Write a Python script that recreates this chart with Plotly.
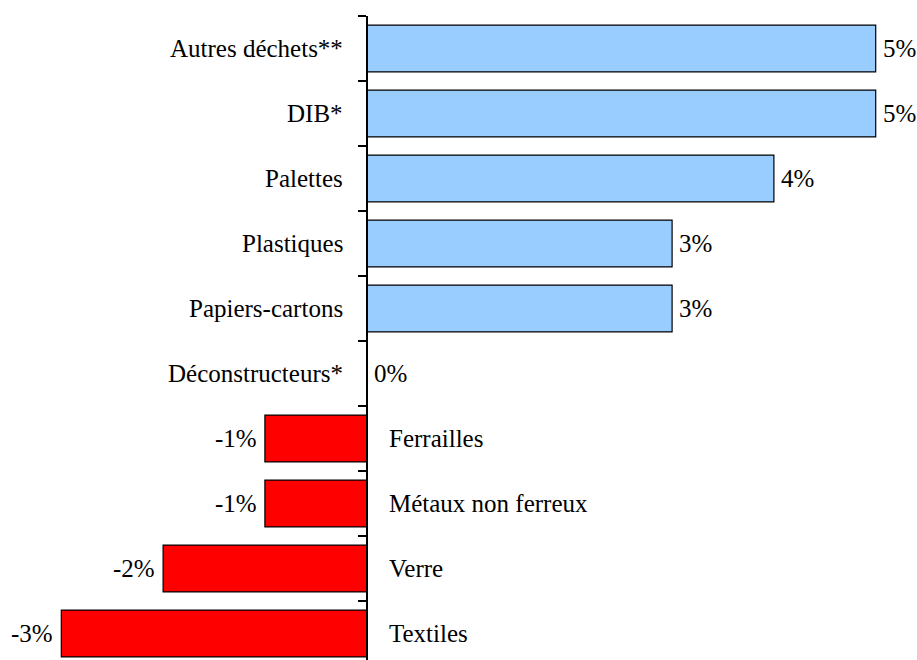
import plotly.graph_objects as go

categories = ["Autres déchets**", "DIB*", "Palettes", "Plastiques", "Papiers-cartons",
              "Déconstructeurs*", "Ferrailles", "Métaux non ferreux", "Verre", "Textiles"]
values = [5, 5, 4, 3, 3, 0, -1, -1, -2, -3]
value_labels = ["5%", "5%", "4%", "3%", "3%", "0%", "-1%", "-1%", "-2%", "-3%"]

POS_COLOR = "#99CCFF"
NEG_COLOR = "#FF0000"
FONT = dict(family="Liberation Serif, Times New Roman, serif", size=25, color="black")

FIG_W, FIG_H = 917, 660
PX_PER_UNIT = 101.8
AXIS_PX = 366.7
xmin = -AXIS_PX / PX_PER_UNIT
xmax = xmin + FIG_W / PX_PER_UNIT
ROW_PX = 65.0
TOP = 16
plot_h = FIG_H - TOP

colors = [POS_COLOR if v >= 0 else NEG_COLOR for v in values]

fig = go.Figure()
fig.add_trace(go.Bar(
    y=categories, x=values, orientation="h",
    marker=dict(color=colors, line=dict(color="black", width=1.2)),
    width=0.72, hoverinfo="skip",
))

annotations = []
for cat, v, lab in zip(categories, values, value_labels):
    if v >= 0:
        annotations.append(dict(x=0, y=cat, text=cat, showarrow=False, xanchor="right",
                                yanchor="middle", xshift=-22, font=FONT))
        annotations.append(dict(x=v, y=cat, text=lab, showarrow=False, xanchor="left",
                                yanchor="middle", xshift=5, font=FONT))
    else:
        annotations.append(dict(x=0, y=cat, text=cat, showarrow=False, xanchor="left",
                                yanchor="middle", xshift=20, font=FONT))
        annotations.append(dict(x=v, y=cat, text=lab, showarrow=False, xanchor="right",
                                yanchor="middle", xshift=-6, font=FONT))

fig.update_layout(
    width=FIG_W, height=FIG_H,
    margin=dict(l=0, r=0, t=TOP, b=0, autoexpand=False),
    paper_bgcolor="white", plot_bgcolor="white",
    showlegend=False,
    annotations=annotations,
    xaxis=dict(range=[xmin, xmax], showgrid=False, zeroline=False, showticklabels=False,
               showline=False, ticks="", fixedrange=True),
    yaxis=dict(type="category", categoryorder="array", categoryarray=categories,
               range=[-0.5 + plot_h / ROW_PX, -0.5], fixedrange=True,
               anchor="free", position=(0 - xmin) / (xmax - xmin),
               showline=True, linecolor="black", linewidth=1.5,
               ticks="outside", tickson="boundaries", ticklen=8, tickwidth=1.5,
               tickcolor="black", showticklabels=False, showgrid=False, zeroline=False),
)

fig.write_html(
    "out.html",
    config={"displayModeBar": False},
    post_script="document.body.style.margin='0';document.body.style.overflow='hidden';",
)
